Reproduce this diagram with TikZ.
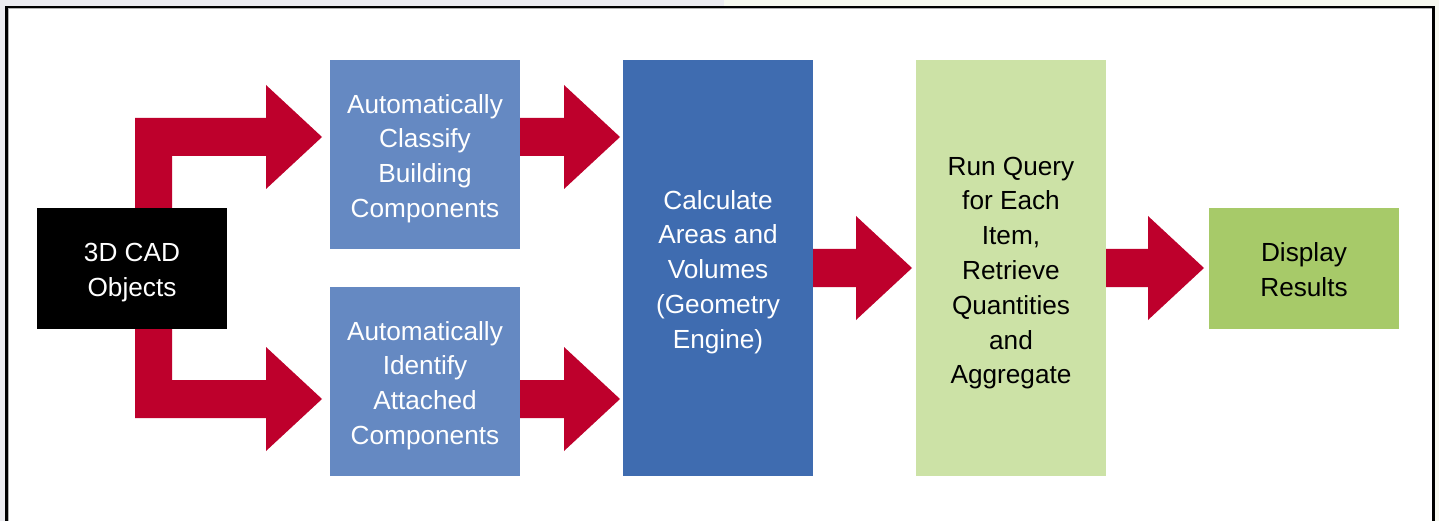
\documentclass[tikz,border=0pt]{standalone}
\usepackage{fontspec}
\setmainfont{Liberation Sans}
\usetikzlibrary{calc,backgrounds}
\definecolor{bgleft}{HTML}{EBEBF0}
\definecolor{bgright}{HTML}{F6F8EF}
\definecolor{arrred}{HTML}{BE002C}
\definecolor{lblue}{HTML}{6589C2}
\definecolor{dblue}{HTML}{3F6CB0}
\definecolor{lgreen}{HTML}{CCE2A6}
\definecolor{mgreen}{HTML}{A7CA69}
\newcommand\blockarr[2]{%
  \fill[arrred] let \p1=(#1), \p2=(#2) in
    (\x1,\y2+19pt) -- (\x2-56pt,\y2+19pt) -- (\x2-56pt,\y2+52pt) -- (\x2,\y2)
    -- (\x2-56pt,\y2-52pt) -- (\x2-56pt,\y2-19pt) -- (\x1,\y2-19pt) -- cycle;}
\begin{document}
\begin{tikzpicture}[x=1pt,y=-1pt,
  fillbox/.style={inner sep=0pt, minimum width=190pt},
  boxtext/.style={inner sep=0pt, align=center, yshift=-4pt,
    font=\fontsize{26.2}{34.8}\selectfont},
  whitetext/.style={boxtext, text=white},
  blacktext/.style={boxtext, text=black}]
\useasboundingbox (0,0) rectangle (1439,521);
% background and frame
\begin{pgfonlayer}{background}
\fill[bgleft] (0,0) rectangle (724,521);
\fill[bgright] (724,0) rectangle (1439,521);
\fill[white] (6,7) rectangle (1434,521);
\draw[gray!60, line width=1pt] (8.5,530) |- (1432,9);
\draw[black, line width=2.5pt] (6.25,530) |- (1433.5,7.25) -- (1433.5,530);
\end{pgfonlayer}
% boxes
\node[fillbox, fill=black, minimum height=121pt,
  label={[whitetext, name=cadt]center:{3D CAD\\Objects}}] (cad) at (132,268.5) {};
\node[fillbox, fill=lblue, minimum height=189pt,
  label={[whitetext, name=acbt]center:{Automatically\\Classify\\Building\\Components}}] (acb) at (425,154.5) {};
\node[fillbox, fill=lblue, minimum height=189pt,
  label={[whitetext, name=aiat]center:{Automatically\\Identify\\Attached\\Components}}] (aia) at (425,381.5) {};
\node[fillbox, fill=dblue, minimum height=416pt,
  label={[whitetext, name=calct]center:{Calculate\\Areas and\\Volumes\\(Geometry\\Engine)}}] (calc) at (718,268) {};
\node[fillbox, fill=lgreen, minimum height=416pt,
  label={[blacktext, name=rqt, yshift=-1pt]center:{Run Query\\for Each\\Item,\\Retrieve\\Quantities\\and\\Aggregate}}] (rq) at (1011,268) {};
\node[fillbox, fill=mgreen, minimum height=121pt,
  label={[blacktext, name=dispt, yshift=2.5pt]center:{Display\\Results}}] (disp) at (1304,268.5) {};
% arrow tips
\coordinate (t1) at (620,137);
\coordinate (t2) at (620,399);
\coordinate (t3) at (912,268);
\coordinate (t4) at (1204,268);
\coordinate (ta) at (322,137);
\coordinate (tb) at (322,399);
\blockarr{acb.east |- t1}{t1}
\blockarr{aia.east |- t2}{t2}
\blockarr{calc.east |- t3}{t3}
\blockarr{rq.east |- t4}{t4}
% forked arrow from CAD objects (behind the black box)
\begin{pgfonlayer}{background}
\fill[arrred] let \p1=(ta), \p2=(tb), \p3=(cad.center) in
  (\x3+3pt,\y1+19pt) -- (\x1-56pt,\y1+19pt) -- (\x1-56pt,\y1+52pt) -- (\x1,\y1)
  -- (\x1-56pt,\y1-52pt) -- (\x1-56pt,\y1-19pt) -- (\x3+40pt,\y1-19pt)
  -- (\x3+40pt,\y2+19pt) -- (\x2-56pt,\y2+19pt) -- (\x2-56pt,\y2+52pt) -- (\x2,\y2)
  -- (\x2-56pt,\y2-52pt) -- (\x2-56pt,\y2-19pt) -- (\x3+3pt,\y2-19pt) -- cycle;
\end{pgfonlayer}
\end{tikzpicture}
\end{document}
